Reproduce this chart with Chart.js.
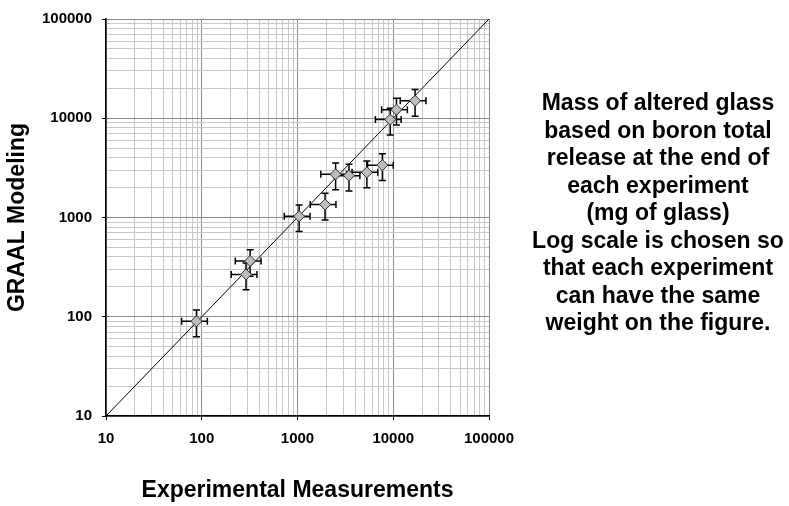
<!DOCTYPE html>
<html>
<head>
<meta charset="utf-8">
<script src="https://cdn.jsdelivr.net/npm/chart.js@4.4.1/dist/chart.umd.min.js"></script>
<style>
    body { margin: 0; background: #fff; }
    #wrap { width: 789px; height: 506px; }
</style>
</head>
<body>
<div id="wrap"><canvas id="glassChart" width="789" height="506"></canvas></div>
<script>
// Datos (mg de vidrio alterado)
const xMeasured = [88, 290, 320, 1040, 1940, 2500, 3450, 5300, 7700, 9300, 10800, 16900];
const yModeled = [90, 267, 365, 1030, 1350, 2720, 2640, 2850, 3370, 9700, 12200, 15000];
// Barras de error relativas (+/- 30 %)
const errPct = 0.3;

// Línea y = x
const diagX = [10, 100000];
const diagY = [10, 100000];

// Etiquetas de los ejes
const tickLabels = ['10', '100', '1000', '10000', '100000'];
const xTitle = 'Experimental Measurements';
const yTitle = 'GRAAL Modeling';
const noteLines = [
    'Mass of altered glass',
    'based on boron total',
    'release at the end of',
    'each experiment',
    '(mg of glass)',
    'Log scale is chosen so',
    'that each experiment',
    'can have the same',
    'weight on the figure.'
];

const FONT = "'Liberation Sans', Arial, Helvetica, sans-serif";

function isMajor(v) {
    return tickLabels.indexOf(String(v)) !== -1;
}

// Rejilla logarítmica: 1..9 x 10^n
function buildLogTicks(scale) {
    const ticks = [];
    for (let e = 1; e < 5; e++) {
        for (let m = 1; m < 10; m++) {
            ticks.push({ value: m * Math.pow(10, e) });
        }
    }
    ticks.push({ value: 100000 });
    scale.ticks = ticks;
}

// Plugin: barras de error en X e Y
const errorBars = {
    id: 'errorBars',
    beforeDatasetsDraw(chart) {
        const ctx = chart.ctx;
        const xs = chart.scales.x;
        const ys = chart.scales.y;
        const cap = 3.5;
        ctx.save();
        ctx.strokeStyle = '#000';
        ctx.lineWidth = 1.5;
        for (let i = 0; i < xMeasured.length; i++) {
            const px = xs.getPixelForValue(xMeasured[i]);
            const py = ys.getPixelForValue(yModeled[i]);
            const xl = xs.getPixelForValue(xMeasured[i] * (1 - errPct));
            const xr = xs.getPixelForValue(xMeasured[i] * (1 + errPct));
            const yb = ys.getPixelForValue(yModeled[i] * (1 - errPct));
            const yt = ys.getPixelForValue(yModeled[i] * (1 + errPct));
            ctx.beginPath();
            ctx.moveTo(xl, py); ctx.lineTo(xr, py);
            ctx.moveTo(xl, py - cap); ctx.lineTo(xl, py + cap);
            ctx.moveTo(xr, py - cap); ctx.lineTo(xr, py + cap);
            ctx.moveTo(px, yb); ctx.lineTo(px, yt);
            ctx.moveTo(px - cap, yb); ctx.lineTo(px + cap, yb);
            ctx.moveTo(px - cap, yt); ctx.lineTo(px + cap, yt);
            ctx.stroke();
        }
        ctx.restore();
    }
};

// Plugin: texto explicativo a la derecha
const sideNote = {
    id: 'sideNote',
    afterDraw(chart) {
        const ctx = chart.ctx;
        ctx.save();
        ctx.fillStyle = '#000';
        ctx.font = 'bold 23px ' + FONT;
        ctx.textAlign = 'center';
        ctx.textBaseline = 'middle';
        noteLines.forEach((line, i) => {
            ctx.fillText(line, 658, 104 + i * 27.5);
        });
        ctx.restore();
    }
};

function axisOptions(title, isX) {
    return {
        type: 'logarithmic',
        min: 10,
        max: 100000,
        afterBuildTicks: buildLogTicks,
        afterFit(scale) {
            if (isX) scale.height = 90; else scale.width = 106;
        },
        border: { color: '#000', width: 1.5 },
        grid: {
            color: c => (c.tick && isMajor(c.tick.value)) ? '#8a8a8a' : '#c8c8c8',
            tickColor: c => (c.tick && isMajor(c.tick.value)) ? '#000' : 'rgba(0,0,0,0)',
            tickLength: 4,
            lineWidth: 1
        },
        ticks: {
            autoSkip: false,
            maxRotation: 0,
            padding: isX ? 10 : 10,
            color: '#000',
            font: { family: FONT, size: 15, weight: 'bold' },
            callback: function (value) {
                return isMajor(value) ? String(value) : '';
            }
        },
        title: {
            display: true,
            text: title,
            color: '#000',
            font: { family: FONT, size: 23, weight: 'bold' },
            padding: isX ? { top: 0, bottom: 2 } : { top: 4, bottom: 0 }
        }
    };
}

const chart = new Chart(document.getElementById('glassChart'), {
    type: 'scatter',
    data: {
        datasets: [{
            label: 'GRAAL',
            data: xMeasured.map((x, i) => ({ x: x, y: yModeled[i] })),
            pointStyle: 'rectRot',
            pointRadius: 5.5,
            backgroundColor: '#bdbdbd',
            borderColor: '#333',
            borderWidth: 1
        }, {
            type: 'line',
            label: 'y = x',
            data: diagX.map((x, i) => ({ x: x, y: diagY[i] })),
            borderColor: '#000',
            borderWidth: 1,
            pointRadius: 0,
            fill: false
        }]
    },
    options: {
        responsive: false,
        animation: false,
        layout: { padding: { top: 14, right: 300, left: 0, bottom: 0 } },
        plugins: {
            legend: { display: false },
            tooltip: { enabled: false }
        },
        scales: {
            x: axisOptions(xTitle, true),
            y: axisOptions(yTitle, false)
        }
    },
    plugins: [errorBars, sideNote]
});
</script>
</body>
</html>
